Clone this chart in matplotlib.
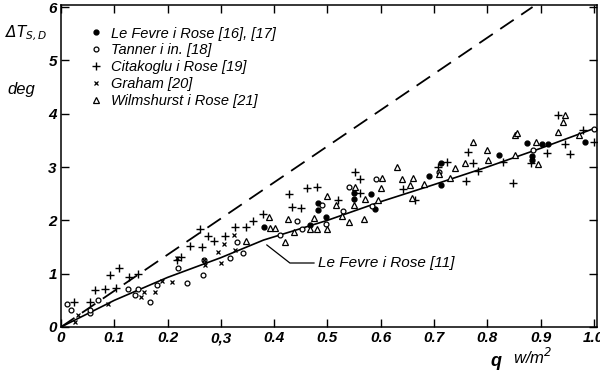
import numpy as np
import matplotlib
matplotlib.use('Agg')
import matplotlib.pyplot as plt

plt.rcParams['font.family'] = ['Liberation Sans', 'DejaVu Sans']
plt.rcParams['font.style'] = 'italic'

# Le Fevre i Rose [16],[17] - filled dots
lf_q = [0.381, 0.467, 0.482, 0.482, 0.498, 0.55, 0.55, 0.582, 0.589, 0.69,
        0.713, 0.713, 0.822, 0.874, 0.903, 0.914, 0.884, 0.884, 0.984]
lf_t = [1.87, 1.91, 2.33, 2.2, 2.06, 2.51, 2.4, 2.49, 2.22, 2.83,
        3.07, 2.66, 3.23, 3.45, 3.43, 3.43, 3.2, 3.13, 3.46]

# Tanner i in. [18] - open circles
tn_q = [0.011, 0.018, 0.054, 0.055, 0.07, 0.126, 0.139, 0.145, 0.167, 0.18,
        0.22, 0.236, 0.267, 0.268, 0.317, 0.33, 0.341, 0.411, 0.442, 0.452,
        0.489, 0.498, 0.53, 0.54, 0.584, 0.592, 0.709, 0.886, 1.0]
tn_t = [0.44, 0.32, 0.26, 0.32, 0.5, 0.71, 0.6, 0.71, 0.47, 0.79,
        1.1, 0.82, 0.98, 1.26, 1.29, 1.6, 1.38, 1.73, 1.99, 1.84,
        2.29, 1.93, 2.18, 2.62, 2.27, 2.77, 2.91, 3.32, 3.71]

# Citakoglu i Rose [19] - plus
ct_q = [0.024, 0.054, 0.064, 0.083, 0.092, 0.108, 0.104, 0.128, 0.145, 0.217,
        0.226, 0.242, 0.26, 0.265, 0.276, 0.288, 0.307, 0.326, 0.348, 0.361,
        0.38, 0.428, 0.433, 0.45, 0.461, 0.48, 0.52, 0.552, 0.561, 0.561,
        0.642, 0.664, 0.707, 0.724, 0.763, 0.774, 0.761, 0.783, 0.83, 0.849,
        0.883, 0.913, 0.933, 0.946, 0.955, 0.98, 1.0]
ct_t = [0.46, 0.47, 0.69, 0.72, 0.98, 1.1, 0.73, 0.94, 1.0, 1.26,
        1.32, 1.51, 1.83, 1.5, 1.7, 1.62, 1.7, 1.87, 1.88, 1.99,
        2.12, 2.5, 2.25, 2.24, 2.6, 2.62, 2.39, 2.9, 2.77, 2.51,
        2.58, 2.38, 3.0, 3.1, 3.29, 3.07, 2.73, 2.93, 3.1, 2.7,
        3.07, 3.27, 3.98, 3.43, 3.25, 3.7, 3.46]

# Graham [20] - crosses
gr_q = [0.026, 0.031, 0.089, 0.151, 0.155, 0.176, 0.189, 0.208, 0.217, 0.269,
        0.271, 0.294, 0.3, 0.306, 0.325, 0.326]
gr_t = [0.1, 0.22, 0.43, 0.57, 0.65, 0.66, 0.86, 0.85, 1.29, 1.26,
        1.16, 1.41, 1.2, 1.55, 1.73, 1.44]

# Wilmshurst i Rose [21] - open triangles
wr_q = [0.347, 0.391, 0.392, 0.401, 0.42, 0.426, 0.437, 0.467, 0.48, 0.475,
        0.499, 0.499, 0.517, 0.527, 0.54, 0.552, 0.55, 0.571, 0.568, 0.6,
        0.595, 0.603, 0.63, 0.64, 0.661, 0.655, 0.659, 0.682, 0.709, 0.73,
        0.739, 0.759, 0.774, 0.799, 0.802, 0.852, 0.855, 0.852, 0.892, 0.896,
        0.933, 0.942, 0.946, 0.972]
wr_t = [1.62, 2.07, 1.85, 1.85, 1.6, 2.03, 1.79, 1.83, 1.84, 2.04,
        1.84, 2.46, 2.29, 2.08, 1.97, 2.63, 2.29, 2.4, 2.02, 2.6,
        2.38, 2.8, 3.0, 2.77, 2.8, 2.66, 2.41, 2.68, 2.87, 2.79,
        2.98, 3.07, 3.46, 3.31, 3.13, 3.6, 3.63, 3.23, 3.46, 3.06,
        3.66, 3.84, 3.98, 3.6]

# Le Fevre i Rose [11] curve
curve_q = [0.0, 0.1, 0.2, 0.3, 0.38, 0.5, 0.6, 0.7, 0.8, 0.9, 1.0]
curve_t = [0.0, 0.5, 0.93, 1.3, 1.63, 2.0, 2.35, 2.67, 3.0, 3.35, 3.72]

# dashed line
dash_q = [0.0, 0.885]
dash_t = [0.0, 6.0]

xticks = [0, 0.1, 0.2, 0.3, 0.4, 0.5, 0.6, 0.7, 0.8, 0.9, 1.0]
xtick_labels = ['0', '0.1', '0.2', '0,3', '0.4', '0.5', '0.6', '0.7', '0.8', '0.9', '1.0']
yticks = [0, 1, 2, 3, 4, 5, 6]

fig = plt.figure(figsize=(6.0, 3.75), dpi=100)
ax = fig.add_axes([0.1017, 0.128, 0.893, 0.859])

ax.plot(dash_q, dash_t, color='black', lw=1.3, dashes=(9, 5))
ax.plot(curve_q, curve_t, color='black', lw=1.2)

kw = dict(linestyle='none', color='black')
ax.plot(lf_q, lf_t, marker='o', ms=3.5, label='Le Fevre i Rose [16], [17]', **kw)
ax.plot(tn_q, tn_t, marker='o', ms=3.5, mfc='white', mew=0.9, label='Tanner i in. [18]', **kw)
ax.plot(ct_q, ct_t, marker='+', ms=6, mew=1.0, label='Citakoglu i Rose [19]', **kw)
ax.plot(gr_q, gr_t, marker='x', ms=3.5, mew=0.9, label='Graham [20]', **kw)
ax.plot(wr_q, wr_t, marker='^', ms=4.5, mfc='white', mew=0.9, label='Wilmshurst i Rose [21]', **kw)

ax.set_xlim(0, 1.0056)
ax.set_ylim(0, 6.04)
ax.set_xticks(xticks)
ax.set_xticklabels(xtick_labels)
ax.set_yticks(yticks)
ax.tick_params(direction='in', length=6, width=1, top=True, right=True,
               labelsize=11, pad=3)
for lab in ax.get_xticklabels() + ax.get_yticklabels():
    lab.set_fontweight('bold')
for sp in ax.spines.values():
    sp.set_linewidth(1.1)

leg = ax.legend(loc='upper left', bbox_to_anchor=(0.035, 0.96), frameon=False,
                fontsize=10.5, handlelength=1.0, handletextpad=0.55,
                labelspacing=0.2, borderaxespad=0.2)

# annotation for the curve
ax.annotate('Le Fevre i Rose [11]', xy=(0.386, 1.54), xytext=(0.483, 1.2),
            fontsize=11, va='center', ha='left',
            arrowprops=dict(arrowstyle='-', color='black', lw=0.9,
                            connectionstyle='angle,angleA=0,angleB=-38,rad=0',
                            shrinkA=1, shrinkB=0))

fig.text(0.008, 0.9, r'$\Delta T_{S,D}$', fontsize=11)
fig.text(0.013, 0.75, 'deg', fontsize=12)
fig.text(0.818, 0.025, 'q', fontsize=13, fontweight='bold')
fig.text(0.855, 0.03, r'w/m$^2$', fontsize=12)

fig.savefig('out.png', dpi=100)
